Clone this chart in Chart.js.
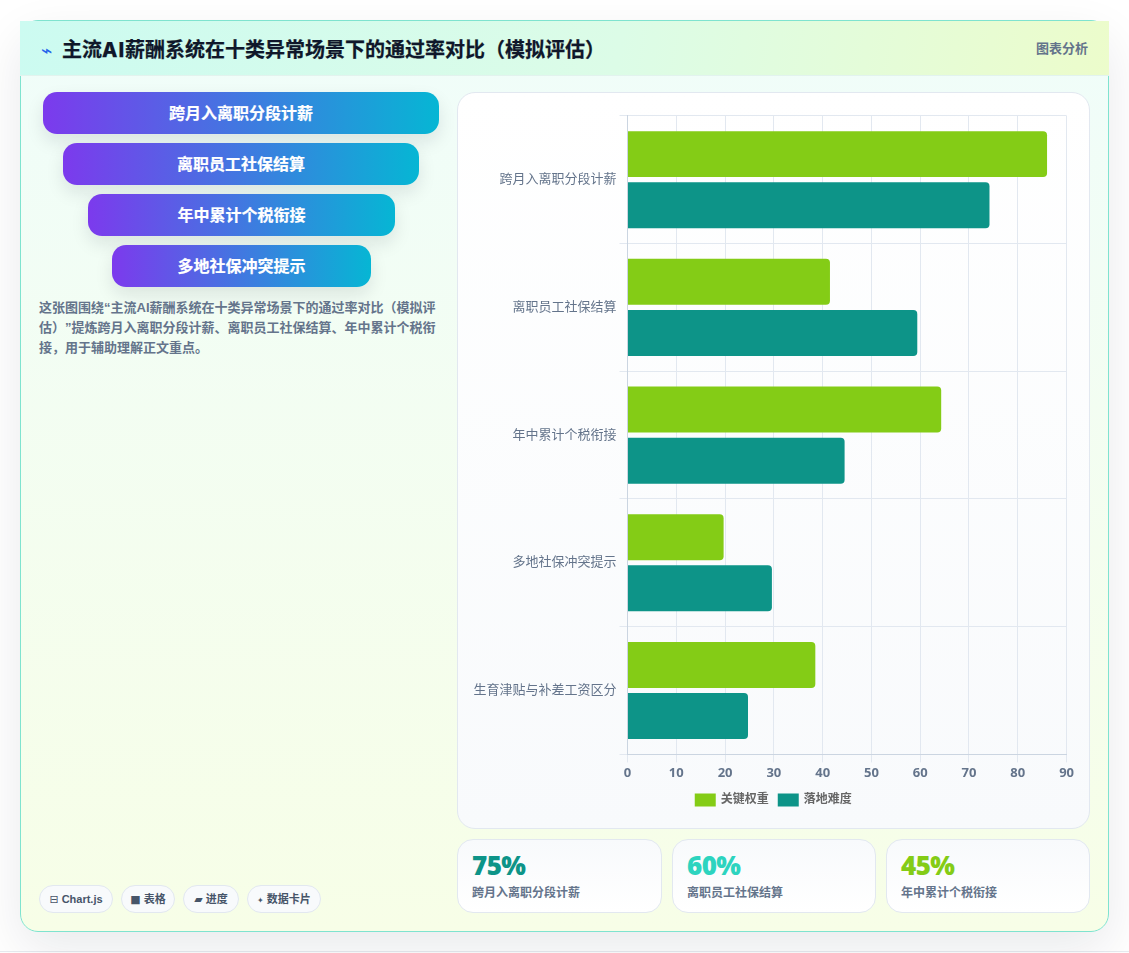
<!DOCTYPE html>
<html lang="zh-CN">
<head>
  <meta charset="UTF-8" />
  <title>主流AI薪酬系统通过率对比</title>
  <script src="https://cdn.jsdelivr.net/npm/chart.js"></script>
  <style>
    * { box-sizing: border-box; }
    html, body { margin: 0; height: 953px; overflow: hidden; background: #fff; }
    body { font-family: "Liberation Sans", "Noto Sans CJK SC", sans-serif; position: relative; text-spacing-trim: space-all; }
    .foot-line { position: absolute; left: 0; right: 0; top: 951px; height: 1px; background: #e8ebf0; }
    .card {
      position: absolute; left: 20px; top: 20px; width: 1089px; height: 912px;
      border: 1px solid #7fe3cf; border-radius: 18px;
      background: linear-gradient(180deg, #f0fdfa 0%, #f7fee7 100%);
      box-shadow: 0 18px 50px rgba(15, 23, 42, 0.09);
    }
    .head {
      position: absolute; left: -1px; top: 0; width: 1089px; height: 55px;
      background: linear-gradient(100deg, #ccfbf1 0%, #dcfce7 55%, #ecfccb 100%);
      border-bottom: 1px solid #e2f3ee;
    }
    .head h1 { position: absolute; left: 42px; top: 15px; margin: 0; font-size: 20px; line-height: 28px; font-weight: 700; color: #0f172a; -webkit-text-stroke: 0.25px #0f172a; white-space: nowrap; }
    .head h1 span { font-family: Inter, sans-serif; font-weight: 800; letter-spacing: 1px; }
    .head .icon { position: absolute; left: 21px; top: 19px; font: 19px/20px "DejaVu Sans"; color: #2563eb; }
    .head .tag { position: absolute; right: 21px; top: 18px; font-size: 13px; line-height: 20px; font-weight: 700; color: #64748b; }
    .pill {
      position: absolute; height: 42px; border-radius: 14px; text-align: center;
      font-size: 16px; line-height: 44px; font-weight: 700; color: #fff;
      -webkit-text-stroke: 0.2px #fff;
      background: linear-gradient(90deg, #7c3aed, #06b6d4);
      box-shadow: 0 8px 18px rgba(15, 23, 42, 0.1);
    }
    .desc { position: absolute; left: 18px; top: 277px; width: 402px; margin: 0; font-size: 13px; line-height: 20px; font-weight: 700; color: #64748b; }
    .chip {
      position: absolute; top: 864px; height: 28px; border-radius: 14px; text-align: center;
      border: 1px solid #e2e8f0; background: #f8fafc;
      font-size: 11px; line-height: 26px; font-weight: 700; color: #475569; white-space: nowrap;
    }
    .chip i { font: normal 11px/26px "DejaVu Sans"; }
    .panel {
      position: absolute; left: 436px; top: 71px; width: 633px; height: 737px;
      border: 1px solid #e2e8f0; border-radius: 18px;
      background: linear-gradient(180deg, #fff 0%, #f8fafc 100%);
    }
    .panel canvas { position: absolute; left: 11px; top: 12px; }
    .kpi {
      position: absolute; top: 818px; height: 74px; border: 1px solid #e2e8f0; border-radius: 16px;
      background: linear-gradient(180deg, #f8fafc 0%, #fff 100%);
    }
    .kpi b { position: absolute; left: 14px; top: 7px; font: 800 26px/36px "Open Sans", sans-serif; letter-spacing: -0.6px; }
    .kpi span { position: absolute; left: 14px; top: 44px; font-size: 12px; line-height: 18px; font-weight: 700; color: #64748b; white-space: nowrap; }
  </style>
</head>
<body>
  <div class="foot-line"></div>
  <div class="card">
    <div class="head">
      <span class="icon">⌁</span>
      <h1>主流<span>AI</span>薪酬系统在十类异常场景下的通过率对比（模拟评估）</h1>
      <span class="tag">图表分析</span>
    </div>
    <div class="pill" style="left:22px;width:396px;top:71px">跨月入离职分段计薪</div>
    <div class="pill" style="left:42px;width:356px;top:122px">离职员工社保结算</div>
    <div class="pill" style="left:67px;width:307px;top:173px">年中累计个税衔接</div>
    <div class="pill" style="left:91px;width:259px;top:224px">多地社保冲突提示</div>
    <p class="desc">这张图围绕“主流AI薪酬系统在十类异常场景下的通过率对比（模拟评估）”提炼跨月入离职分段计薪、离职员工社保结算、年中累计个税衔接，用于辅助理解正文重点。</p>

    <div class="chip" style="left:18px;width:74px"><i>⊟</i> Chart.js</div>
    <div class="chip" style="left:100px;width:54px"><i>■</i> 表格</div>
    <div class="chip" style="left:162px;width:56px"><i>▰</i> 进度</div>
    <div class="chip" style="left:226px;width:74px"><i style="font-size:8px">✦</i> 数据卡片</div>

    <div class="panel"><canvas id="barChart" width="608" height="711"></canvas></div>

    <div class="kpi" style="left:436px;width:205px"><b style="color:#0d9488">75%</b><span>跨月入离职分段计薪</span></div>
    <div class="kpi" style="left:651px;width:204px"><b style="color:#2dd4bf">60%</b><span>离职员工社保结算</span></div>
    <div class="kpi" style="left:865px;width:204px"><b style="color:#84cc16">45%</b><span>年中累计个税衔接</span></div>
  </div>

  <script>
    const categories = ['跨月入离职分段计薪', '离职员工社保结算', '年中累计个税衔接', '多地社保冲突提示', '生育津贴与补差工资区分'];
    const keyWeight = [86, 41.5, 64.3, 19.7, 38.5];
    const difficulty = [74.2, 59.4, 44.5, 29.6, 24.7];

    new Chart(document.getElementById('barChart'), {
      type: 'bar',
      data: {
        labels: categories,
        datasets: [
          { label: '关键权重', data: keyWeight, backgroundColor: '#84cc16', borderRadius: 4 },
          { label: '落地难度', data: difficulty, backgroundColor: '#0d9488', borderRadius: 4 }
        ]
      },
      options: {
        indexAxis: 'y',
        responsive: false,
        animation: false,
        layout: { padding: { top: 10, left: 1.5 } },
        scales: {
          x: {
            min: 0, max: 90,
            ticks: { stepSize: 10, color: '#64748b', font: { size: 13, weight: '700', family: '"Open Sans"' } },
            grid: { color: '#e2e8f0' },
            border: { color: '#cbd5e1' }
          },
          y: {
            ticks: { color: '#64748b', font: { size: 13, family: '"Liberation Sans", "Noto Sans CJK SC"' } },
            grid: { color: '#e2e8f0' },
            border: { color: '#cbd5e1' }
          }
        },
        plugins: {
          legend: {
            position: 'bottom',
            labels: {
              boxWidth: 19, boxHeight: 11, padding: 10, color: '#666',
              font: { size: 12, weight: '700', family: '"Liberation Sans", "Noto Sans CJK SC"' },
              // legend swatches get a same-colour outline so they sit closer to their text
              generateLabels: chart => Chart.defaults.plugins.legend.labels.generateLabels(chart)
                .map(item => ({ ...item, strokeStyle: item.fillStyle, lineWidth: 2 }))
            }
          }
        }
      }
    });
  </script>
</body>
</html>
